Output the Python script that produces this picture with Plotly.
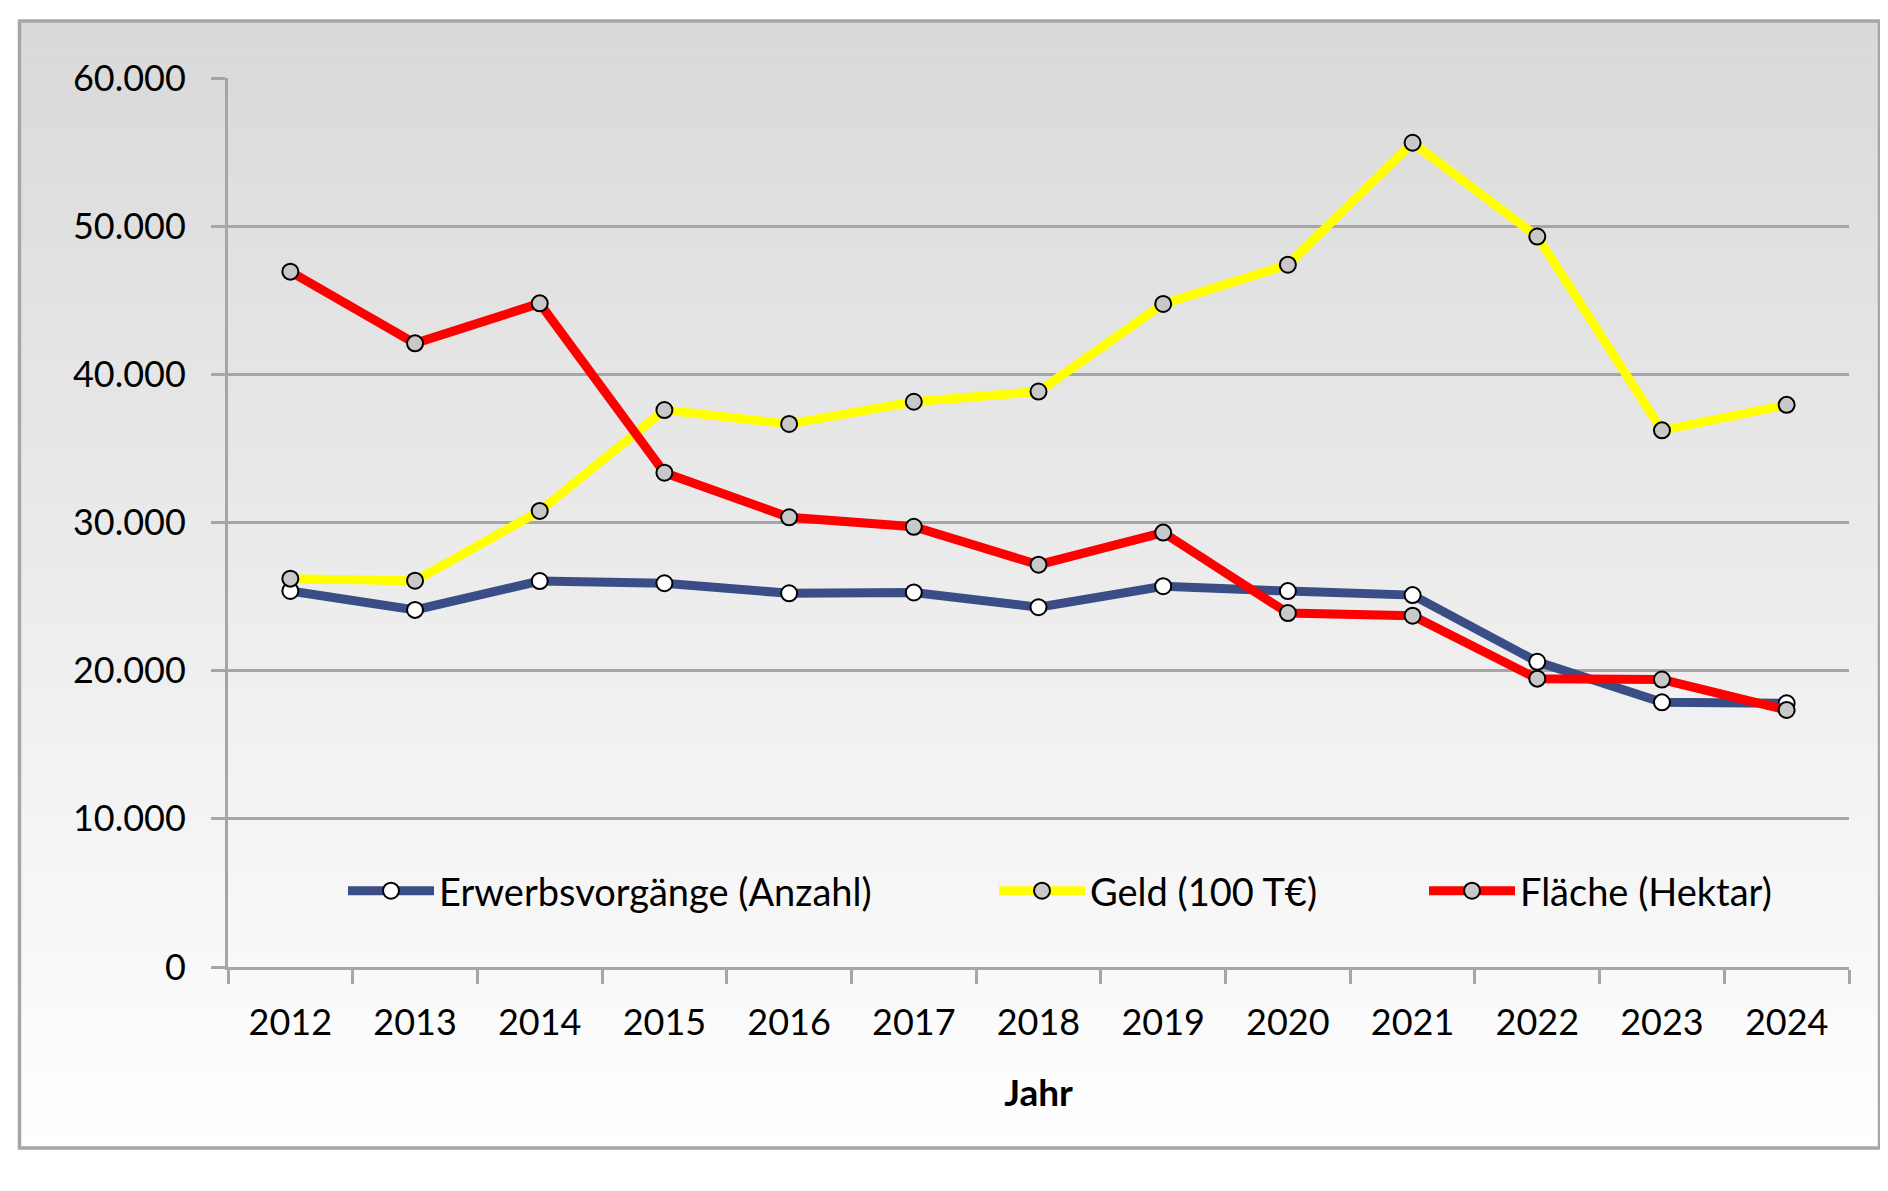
import plotly.graph_objects as go

# ---------------- data ----------------
years = ["2012", "2013", "2014", "2015", "2016", "2017", "2018",
         "2019", "2020", "2021", "2022", "2023", "2024"]
erwerb = [25380, 24100, 26050, 25900, 25220, 25280, 24280,
          25700, 25370, 25100, 20600, 17860, 17800]
geld = [26210, 26070, 30780, 37590, 36650, 38150, 38840,
        44750, 47400, 55630, 49300, 36220, 37940]
flaeche = [46930, 42090, 44790, 33360, 30350, 29710, 27150,
           29320, 23890, 23710, 19460, 19400, 17350]
series_names = ["Erwerbsvorgänge (Anzahl)", "Geld (100 T€)", "Fläche (Hektar)"]
y_ticks = [0, 10000, 20000, 30000, 40000, 50000, 60000]

# ---------------- layout geometry (page px; page has 8px body margin) ----------------
OFF = 8
W, H = 1880, 1183
PL, PR, PT, PB = 228, 1849, 78, 967          # plot area in page pixels
ML, MT = PL - OFF, PT - OFF
MR = W - (PR - OFF)
MB = H - (PB - OFF)
PW, PH = PR - PL, PB - PT


def px_x(px):
    return (px - PL) / PW


def px_y(py):
    return (PB - py) / PH


FONT = "Lato, Carlito, Calibri, sans-serif"
GRID = "#a6a6a6"

fig = go.Figure()

styles = [
    dict(color="#3B4D86", fill="#ffffff"),
    dict(color="#FFFF00", fill="#c8c8c8"),
    dict(color="#FF0000", fill="#c8c8c8"),
]
for i, (name, vals) in enumerate(zip(series_names, [erwerb, geld, flaeche])):
    st = styles[i]
    fig.add_trace(go.Scatter(
        x=years, y=vals, name=name, mode="lines+markers",
        line=dict(color=st["color"], width=9),
        marker=dict(symbol="circle", size=16, color=st["fill"],
                    line=dict(color="#000000", width=2)),
        legend="legend" if i == 0 else f"legend{i + 1}",
        showlegend=True,
    ))

# ---------------- background gradient + frame ----------------
shapes = []
top, bot = 20, 1148
n = 160
for k in range(n):
    y0 = top + (bot - top) * k / n
    y1 = top + (bot - top) * (k + 1) / n + 0.6
    t = (k + 0.5) / n
    c = round(217 + (255 - 217) * t)
    shapes.append(dict(type="rect", xref="paper", yref="paper",
                       x0=px_x(19), x1=px_x(1880), y0=px_y(y1), y1=px_y(y0),
                       fillcolor=f"rgb({c},{c},{c})", line=dict(width=0),
                       layer="below"))
shapes.append(dict(type="rect", xref="paper", yref="paper",
                   x0=px_x(19.5), x1=px_x(1879.5), y0=px_y(1148), y1=px_y(21),
                   line=dict(color=GRID, width=3.5), fillcolor="rgba(0,0,0,0)",
                   layer="below"))

leg_common = dict(orientation="h", yanchor="middle", y=px_y(891),
                  xanchor="left", bgcolor="rgba(0,0,0,0)", borderwidth=0,
                  font=dict(family=FONT, size=38, color="#000000"),
                  itemwidth=86, itemsizing="trace")

fig.update_layout(
    width=W, height=H,
    margin=dict(l=ML, r=MR, t=MT, b=MB, pad=0),
    paper_bgcolor="#ffffff",
    plot_bgcolor="rgba(0,0,0,0)",
    showlegend=True,
    separators=",.",
    font=dict(family=FONT, size=36, color="#000000"),
    shapes=shapes,
    legend=dict(leg_common, x=px_x(343)),
    legend2=dict(leg_common, x=px_x(994)),
    legend3=dict(leg_common, x=px_x(1424)),
    xaxis=dict(
        type="category", range=[-0.5, 12.5],
        showline=True, linecolor=GRID, linewidth=3,
        ticks="outside", tickson="boundaries", ticklen=14, tickwidth=3,
        tickcolor=GRID, showgrid=False, zeroline=False,
        tickfont=dict(family=FONT, size=36, color="#000000"),
        ticklabelstandoff=22,
        title=dict(text="Jahr", standoff=38,
                   font=dict(family=FONT, size=37, color="#000000", weight="bold")),
    ),
    yaxis=dict(
        range=[0, 60000], tickvals=y_ticks, tickformat=",d",
        showline=True, linecolor=GRID, linewidth=3,
        ticks="outside", ticklen=14, tickwidth=3, tickcolor=GRID,
        showgrid=True, gridcolor=GRID, gridwidth=3, zeroline=False,
        tickfont=dict(family=FONT, size=36, color="#000000"),
        ticklabelstandoff=18,
    ),
)

fig.write_html("out.html")
